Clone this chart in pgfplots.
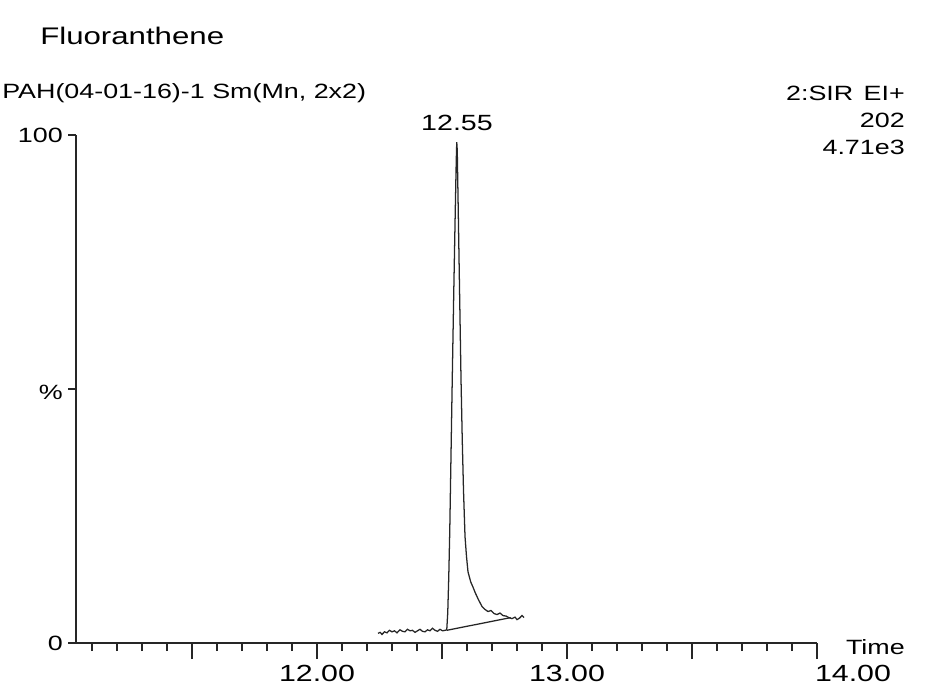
\documentclass[border=0pt]{standalone}
\usepackage{fontspec}
\setmainfont{Liberation Sans}[FakeStretch=1.3]
\usepackage{pgfplots}
\pgfplotsset{compat=1.18}
\begin{document}
\begin{tikzpicture}[font=\fontsize{15.5}{18}\selectfont]
\path[use as bounding box] (0pt,0pt) rectangle (708pt,-523.5pt);
\begin{axis}[
  at={(57pt,-482.25pt)}, anchor=south west,
  scale only axis, width=555.75pt, height=381pt,
  xmin=11.036, xmax=14.0, ymin=0, ymax=100,
  axis x line=bottom, axis y line=left,
  axis line style={-, line width=1.4pt, black!85},
  tick align=outside,
  major tick length=12pt, minor tick length=6pt,
  every tick/.style={black!85, line width=1.0pt},
  xtick={11.5,12,12.5,13,13.5},
  xticklabels={,12.00,,13.00,},
  minor xtick={11.1,11.2,11.3,11.4,11.6,11.7,11.8,11.9,12.1,12.2,12.3,12.4,12.6,12.7,12.8,12.9,13.1,13.2,13.3,13.4,13.6,13.7,13.8,13.9},
  extra x ticks={14},
  extra x tick labels={14.00},
  extra x tick style={xticklabel style={xshift=27pt}},
  xticklabel style={font=\fontsize{17.5}{20}\selectfont, yshift=-1pt},
  ytick={150},
  minor ytick={0,50,100},
  /pgf/number format/assume math mode=true,
  clip=false,
]
\addplot[black!85, line width=0.95pt] coordinates {
(12.244,1.9) (12.252,2.1) (12.260,1.7) (12.270,2.2) (12.280,2.0) (12.290,2.5)
(12.300,2.2) (12.310,2.4) (12.320,2.0) (12.332,2.6) (12.342,2.3) (12.352,2.2)
(12.362,2.7) (12.372,2.4) (12.382,2.5) (12.392,2.1) (12.402,2.4) (12.412,2.7)
(12.422,2.3) (12.432,2.2) (12.442,2.6) (12.452,2.4) (12.462,2.9) (12.472,2.5)
(12.482,2.3) (12.492,2.7) (12.502,2.4) (12.512,2.5) (12.519,2.6)
(12.523,6) (12.527,13) (12.531,22) (12.535,34) (12.541,52) (12.547,69)
(12.553,85) (12.557,95) (12.559,98.6) (12.561,97) (12.564,88) (12.568,76)
(12.572,64) (12.576,52) (12.581,40) (12.586,30) (12.592,21) (12.598,17)
(12.604,14) (12.615,12) (12.624,11) (12.632,10) (12.645,8.6) (12.660,7.2)
(12.672,6.6) (12.684,6.2) (12.696,6.4) (12.708,5.8) (12.720,5.6) (12.732,5.9)
(12.744,5.4) (12.756,5.3) (12.768,5.0) (12.780,4.8) (12.792,5.1) (12.800,4.6)
(12.810,4.9) (12.820,5.4) (12.828,5.0)
};
\addplot[black!85, line width=0.95pt] coordinates {(12.519,2.5) (12.775,5.0)};
\end{axis}
\begin{scope}[x=0.75pt,y=-0.75pt]
\node[anchor=west, inner sep=0pt, font=\fontsize{18}{21}\selectfont] at (40,36) {Fluoranthene};
\node[anchor=west, inner sep=0pt] at (2,93) {PAH(04-01-16)-1 Sm(Mn, 2x2)};
\node[anchor=east, inner sep=0pt] at (905,93) {2:SIR\enspace EI+};
\node[anchor=east, inner sep=0pt] at (905,120) {202};
\node[anchor=east, inner sep=0pt] at (905,147) {4.71e3};
\node[anchor=center, inner sep=0pt, font=\fontsize{16.5}{19}\selectfont] at (457,123) {12.55};
\node[anchor=east, inner sep=0pt] at (63,135) {100};
\node[anchor=east, inner sep=0pt] at (63,392) {\%};
\node[anchor=east, inner sep=0pt] at (63,643) {0};
\node[anchor=east, inner sep=0pt] at (905,647) {Time};
\end{scope}
\end{tikzpicture}
\end{document}
